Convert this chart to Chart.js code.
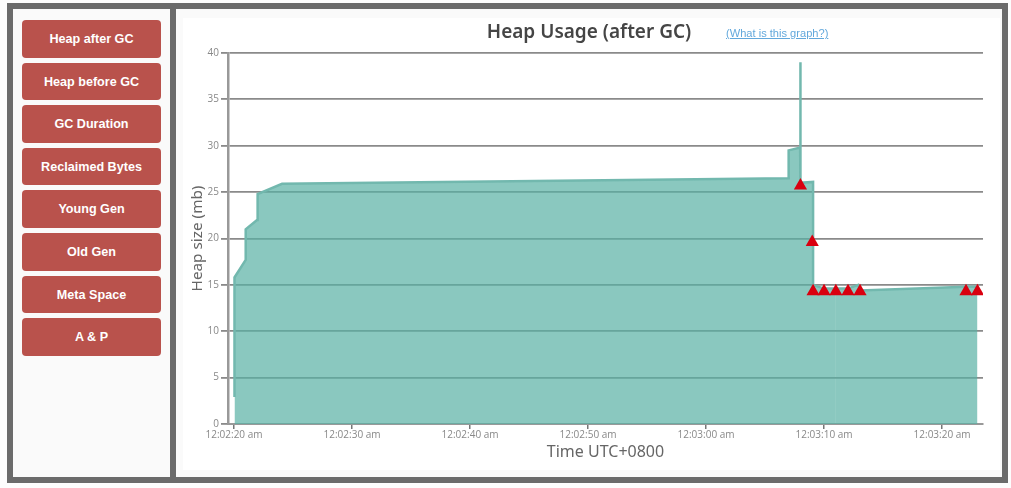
<!DOCTYPE html>
<html>
<head>
<meta charset="utf-8">
<title>Heap Usage (after GC)</title>
<script src="https://cdn.jsdelivr.net/npm/chart.js@4"></script>
<style>
  html, body { margin: 0; padding: 0; background: #fdfdfd; }
  body { width: 1011px; height: 488px; position: relative; overflow: hidden; }
  .frame { position: absolute; left: 7px; top: 3px; width: 989px; height: 468px; border: 6px solid #6b6b6b; background: #fafafa; }
  .divider { position: absolute; left: 170px; top: 3px; width: 6px; height: 480px; background: #6b6b6b; }
  .btn {
    position: absolute; left: 22px; width: 139px; height: 37.5px;
    background: #b9524c; color: #fff; border-radius: 4px; text-align: center;
    font: bold 12.6px/39px "Liberation Sans", sans-serif;
  }
  .panel { position: absolute; left: 183px; top: 18px; width: 817px; height: 452px; background: #fff; }
  .panel canvas { position: absolute; left: 0; top: 0; }
  .chart-title {
    position: absolute; left: 439px; top: 19px; width: 300px; text-align: center; color: #454545;
    font: 600 19px/24px "Noto Sans", sans-serif;
  }
  .help {
    position: absolute; left: 726px; top: 27px; color: #62a8dc;
    font: 11.1px "Liberation Sans", sans-serif; text-decoration: underline;
  }
</style>
</head>
<body>
<div class="frame"></div>
<div class="divider"></div>
<div id="menu"></div>
<div class="panel"><canvas id="heapChart" width="817" height="452"></canvas></div>
<div class="chart-title">Heap Usage (after GC)</div>
<a class="help">(What is this graph?)</a>
<script>
// Menu entries
const menuLabels = ['Heap after GC', 'Heap before GC', 'GC Duration', 'Reclaimed Bytes', 'Young Gen', 'Old Gen', 'Meta Space', 'A & P'];

// Seconds after 12:02:00
const earlyTimes = [20.04, 20.04, 20.99, 20.99, 21.95, 22.0, 24.07, 66.95, 67.0, 67.97, 68.0, 68.0, 69.07, 69.07, 70.0, 71.01];
const earlyHeap = [2.9, 15.8, 17.7, 21.0, 22.0, 24.8, 25.9, 26.5, 29.5, 29.8, 39.0, 26.0, 26.1, 15.0, 14.6, 14.6];
const lateTimes = [71.01, 72.03, 72.9, 73.05, 82.03, 83.0];
const lateHeap = [14.6, 14.6, 15.0, 14.4, 14.8, 14.8];

// GC markers
const gcTimes = [68.0, 69.0, 69.07, 70.0, 71.0, 72.03, 73.05, 82.03, 83.0];
const gcHeap = [25.7, 19.6, 14.3, 14.3, 14.3, 14.3, 14.3, 14.3, 14.3];

const yTicks = [0, 5, 10, 15, 20, 25, 30, 35, 40];

const toPoints = (xs, ys) => xs.map((x, i) => ({ x: x, y: ys[i] }));

// 20 -> 12:02:20 am
function clockLabel(sec) {
  const minutes = 2 + Math.floor(sec / 60);
  const seconds = Math.round(sec % 60);
  return '12:' + String(minutes).padStart(2, '0') + ':' + String(seconds).padStart(2, '0') + ' am';
}

document.getElementById('menu').innerHTML = menuLabels.map((label, i) =>
  '<div class="btn" style="top:' + (20 + i * 42.6) + 'px">' + label.replace('&', '&amp;') + '</div>'
).join('');

const gridGrey = '#8a8a8a';
const fillColor = 'rgba(89, 176, 164, 0.7)';
const lineColor = '#72b8ae';

const areaDataset = (label, points) => ({
  type: 'line',
  label: label,
  data: points,
  borderColor: lineColor,
  backgroundColor: fillColor,
  borderWidth: 2.5,
  fill: 'origin',
  tension: 0,
  pointRadius: 0,
  order: 2
});

new Chart(document.getElementById('heapChart'), {
  data: {
    datasets: [
      areaDataset('Heap', toPoints(earlyTimes, earlyHeap)),
      areaDataset('Heap (cont.)', toPoints(lateTimes, lateHeap)),
      {
        type: 'scatter',
        label: 'GC',
        data: toPoints(gcTimes, gcHeap),
        pointStyle: 'triangle',
        pointRadius: 7.6,
        pointBackgroundColor: '#d9000f',
        pointBorderWidth: 0,
        order: 1
      }
    ]
  },
  options: {
    responsive: false,
    animation: false,
    layout: { padding: { left: 0, right: 17, top: 35, bottom: 0 } },
    plugins: {
      legend: { display: false },
      tooltip: { enabled: false }
    },
    scales: {
      x: {
        type: 'linear',
        min: 19.49,
        max: 83.47,
        border: { color: '#999', width: 2 },
        grid: { drawOnChartArea: false, color: '#777', tickLength: 5, lineWidth: 1.5 },
        ticks: {
          stepSize: 10,
          includeBounds: false,
          maxRotation: 0,
          autoSkip: false,
          padding: 0,
          color: '#888',
          font: { family: '"Open Sans"', size: 10 },
          callback: v => clockLabel(v)
        },
        title: {
          display: true,
          text: 'Time UTC+0800',
          color: '#666',
          font: { family: '"Noto Sans"', size: 16 },
          padding: { top: 0, bottom: 8 }
        },
        afterFit: axis => { axis.height = 46; }
      },
      y: {
        min: 0,
        max: 40,
        afterBuildTicks: axis => { axis.ticks = yTicks.map(v => ({ value: v })); },
        border: { color: '#999', width: 2.5 },
        grid: { color: gridGrey, lineWidth: 1.8, tickLength: 7 },
        ticks: {
          padding: 2,
          color: '#888',
          font: { family: '"Open Sans"', size: 10 }
        },
        title: {
          display: true,
          text: 'Heap size (mb)',
          color: '#666',
          font: { family: '"Noto Sans"', size: 15.3 },
          padding: { top: 5, bottom: 0 }
        },
        afterFit: axis => { axis.width = 45; }
      }
    }
  }
});
</script>
</body>
</html>
